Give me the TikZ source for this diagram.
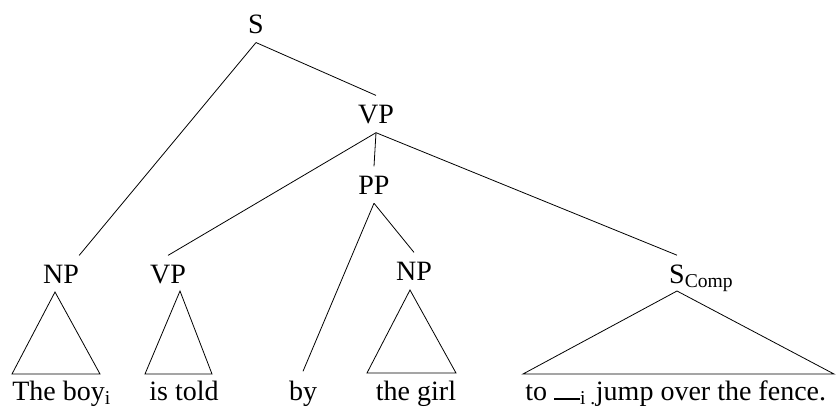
\documentclass[tikz,border=0pt]{standalone}
\usepackage{fontspec}
\setmainfont{Liberation Serif}
\usepackage{tikz}

\begin{document}
\begin{tikzpicture}[x=0.75pt, y=-0.75pt]
\tikzstyle{cat} = [anchor=base, inner xsep=0pt, inner ysep=6.75pt, font=\fontsize{21}{25}\selectfont]
\tikzstyle{word} = [cat]
\tikzstyle{branch} = [draw, line width=0.6pt]
\useasboundingbox (0,0) rectangle (840,408);

% phrase labels
\node [cat] (S) at (256,33) {S};
\node [cat] (VP) at (376,123) {VP};
\node [cat] (PP) at (374,194) {PP};
\node [cat] (NPa) at (61,283) {NP};
\node [cat] (VPb) at (168,283) {VP};
\node [cat] (NPb) at (414,280) {NP};
\node [cat] (Scomp) at (677,283) {S\rlap{\smash{\textsubscript{Comp}}}};

% the sentence
\node [word, anchor=base west] (boy) at (12,400) {The boy\textsubscript{i}};
\node [word] (told) at (184,400) {is told};
\node [word] (by) at (303,400) {by};
\node [word] (girl) at (416,400) {the girl};
\node [word, anchor=base west] (fence) at (525,400) {to \rule{19.5pt}{1.2pt}\textsubscript{i .}jump over the fence.};

\path [branch] (S.south) -- (NPa.north east);
\path [branch] (S.south) -- (VP.north);
\path [branch] (VP.south) -- (VPb.north);
\path [branch] (VP.south) -- (PP.north);
\path [branch] (VP.south) -- (Scomp.north);
\path [branch] (PP.south) -- (by.north);
\path [branch] (PP.south) -- (NPb.north);

% roofs over unanalysed phrases
\path [branch] (55,292) -- (12,374) -- (100,374) -- cycle;
\path [branch] (180,291) -- (145,374) -- (212,374) -- cycle;
\path [branch] (410,290) -- (367,373) -- (456,373) -- cycle;
\path [branch] (677,291) -- (523,374) -- (834,374) -- cycle;
\end{tikzpicture}
\end{document}
